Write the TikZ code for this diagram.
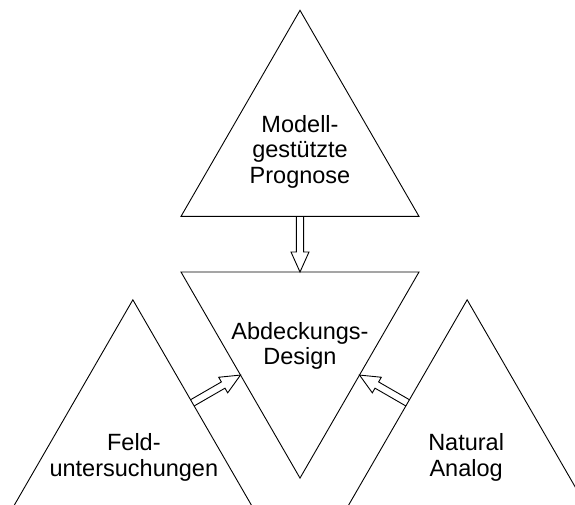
\documentclass[tikz,border=0pt]{standalone}
\usepackage{fontspec}
\setmainfont{Liberation Sans}
\usetikzlibrary{shapes.geometric, calc, positioning}

% open double arrow from #1 to #2
\newcommand{\hollowarrow}[2]{%
  \coordinate (hb) at ($(#2)!20pt!(#1)$);
  \draw ($(#1)!3.6pt!90:(#2)$) -- ($(hb)!3.6pt!90:(#2)$) -- ($(hb)!9pt!90:(#2)$) -- (#2)
        -- ($(hb)!9pt!-90:(#2)$) -- ($(hb)!3.6pt!-90:(#2)$) -- ($(#1)!3.6pt!-90:(#2)$);}

\begin{document}
\begin{tikzpicture}[x=1pt, y=1pt, line width=0.9pt,
    tri/.style={draw, regular polygon, regular polygon sides=3, minimum size=274.8pt, inner sep=0pt, outer sep=0pt},
    triup/.style={tri},
    tridown/.style={tri, shape border rotate=180},
    txt/.style={align=center, inner sep=0pt, font=\fontsize{23.5}{25.5}\selectfont}]

\useasboundingbox (0,0) rectangle (575,504);

		\node (1) [tridown] at (300,163.3) {};
		\node (2) [triup] at ($(1.center)+(90:193)$) {};
		\node (3) [triup] at ($(1.center)+(210:193)$) {};
		\node (4) [triup] at ($(1.center)+(330:193)$) {};

		\node (t1) [txt] at ($(1.center)+(0,-5.2)$) {Abdeckungs-\\Design};
		\node (t2) [txt] at ($(2.center)+(0,-4.2)$) {Modell-\\gestützte\\Prognose};
		\node (t3) [txt] at ($(3.center)+(1,-20)$) {Feld-\\untersuchungen};
		\node (t4) [txt] at ($(4.center)+(-1,-20)$) {Natural\\Analog};

		\hollowarrow{2.side 2}{1.side 2}
		\hollowarrow{3.side 3}{1.side 3}
		\hollowarrow{4.side 1}{1.side 1}

\end{tikzpicture}
\end{document}
